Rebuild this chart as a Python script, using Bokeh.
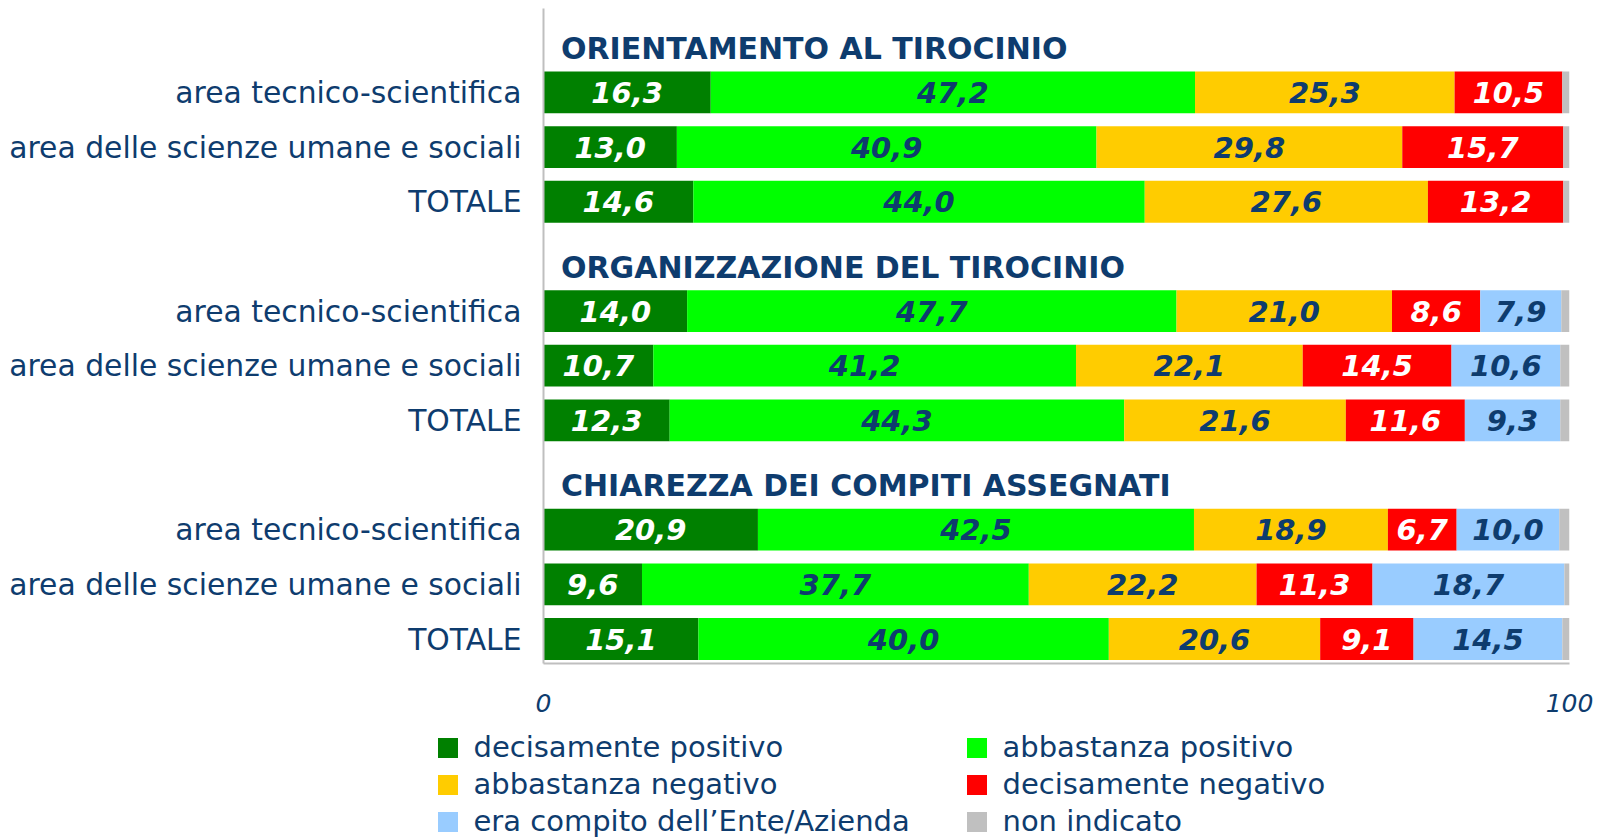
from bokeh.plotting import figure
from bokeh.models import Range1d, FixedTicker, ColumnDataSource, Legend, LegendItem
from bokeh.embed import file_html
from bokeh.resources import INLINE
from bokeh.core.properties import value

# ---------------- data ----------------
sections = ["ORIENTAMENTO AL TIROCINIO", "ORGANIZZAZIONE DEL TIROCINIO",
            "CHIAREZZA DEI COMPITI ASSEGNATI"]
rows = ["area tecnico-scientifica", "area delle scienze umane e sociali", "TOTALE"]
categories = ["decisamente positivo", "abbastanza positivo", "abbastanza negativo",
              "decisamente negativo", "era compito dell\u2019Ente/Azienda", "non indicato"]

decisamente_positivo = [16.3, 13.0, 14.6, 14.0, 10.7, 12.3, 20.9, 9.6, 15.1]
abbastanza_positivo = [47.2, 40.9, 44.0, 47.7, 41.2, 44.3, 42.5, 37.7, 40.0]
abbastanza_negativo = [25.3, 29.8, 27.6, 21.0, 22.1, 21.6, 18.9, 22.2, 20.6]
decisamente_negativo = [10.5, 15.7, 13.2, 8.6, 14.5, 11.6, 6.7, 11.3, 9.1]
era_compito = [0.0, 0.0, 0.0, 7.9, 10.6, 9.3, 10.0, 18.7, 14.5]
non_indicato = [0.7, 0.6, 0.6, 0.8, 0.9, 0.9, 1.0, 0.5, 0.7]

x_ticks = [0, 100]

# ---------------- style ----------------
series = [decisamente_positivo, abbastanza_positivo, abbastanza_negativo,
          decisamente_negativo, era_compito, non_indicato]
colors = ["#008000", "#00FF00", "#FFCC00", "#FF0000", "#99CCFF", "#C0C0C0"]
NAVY = "#0E3C6E"
label_colors = ["white", NAVY, NAVY, "white", NAVY, None]
FONT = value("DejaVu Sans")
AXIS_GREY = "#BFBFBF"

# slot layout: section s -> title slot 4*s, rows 4*s+1 .. 4*s+3
row_pos = []
row_names = []
for s in range(len(sections)):
    for r, name in enumerate(rows):
        row_pos.append(4 * s + 1 + r)
        row_names.append(name)
title_pos = [4 * s + 0.2 for s in range(len(sections))]

p = figure(width=1604, height=725,
           x_range=Range1d(0, 100), y_range=Range1d(11.448, -0.535),
           output_backend="svg", toolbar_location=None,
           min_border_left=543, min_border_right=35,
           min_border_top=8, min_border_bottom=62)
p.outline_line_color = None
p.xgrid.visible = False
p.ygrid.visible = False

cum = [0.0] * len(row_pos)
for k, vals in enumerate(series):
    left = cum[:]
    right = [a + b for a, b in zip(cum, vals)]
    cum = right
    src = ColumnDataSource(dict(y=row_pos, left=left, right=right))
    p.hbar(y="y", left="left", right="right", height=0.765, source=src,
           fill_color=colors[k], line_color=None)
    if label_colors[k] is not None:
        lx, ly, lt = [], [], []
        for i, v in enumerate(vals):
            if v > 0:
                lx.append((left[i] + right[i]) / 2)
                ly.append(row_pos[i])
                lt.append(f"{v:.1f}".replace(".", ","))
        p.text(x=lx, y=ly, text=lt, text_align="center", text_baseline="middle",
               text_font=FONT, text_font_style="bold italic", text_font_size="29px",
               text_color=label_colors[k])

# section titles
p.text(x=[1.7] * len(sections), y=title_pos, text=sections,
       text_align="left", text_baseline="alphabetic",
       text_font=FONT, text_font_style="bold", text_font_size="30px",
       text_color=NAVY)

# y axis (row labels)
ya = p.yaxis[0]
ya.ticker = FixedTicker(ticks=row_pos)
ya.major_label_overrides = {pos: name for pos, name in zip(row_pos, row_names)}
ya.major_label_text_font = "DejaVu Sans"
ya.major_label_text_font_size = "29.8px"
ya.major_label_text_color = NAVY
ya.major_label_standoff = 22
ya.major_tick_out = 0
ya.major_tick_in = 0
ya.minor_tick_out = 0
ya.minor_tick_in = 0
ya.axis_line_color = AXIS_GREY
ya.axis_line_width = 2

xa = p.xaxis[0]
xa.ticker = FixedTicker(ticks=x_ticks)
xa.major_label_text_font = "DejaVu Sans"
xa.major_label_text_font_style = "italic"
xa.major_label_text_font_size = "25px"
xa.major_label_text_color = NAVY
xa.major_label_standoff = 30
xa.major_tick_out = 0
xa.major_tick_in = 0
xa.minor_tick_out = 0
xa.minor_tick_in = 0
xa.axis_line_color = AXIS_GREY
xa.axis_line_width = 2

# ---------------- legend strip (separate root below the chart) ----------------
lg = figure(width=1604, height=113, x_range=Range1d(0, 1), y_range=Range1d(0, 1),
            output_backend="svg", toolbar_location=None, min_border=0,
            x_axis_location=None, y_axis_location=None)
lg.outline_line_color = None
lg.grid.visible = False
# swatch renderers lie outside the visible range; only their legend glyphs show
swatches = [lg.hbar(y=[-10], left=[0], right=[1], height=1, fill_color=c, line_color=None)
            for c in colors]


def make_legend(idx, loc):
    leg = Legend(items=[LegendItem(label=categories[i], renderers=[swatches[i]]) for i in idx],
                 location=loc, orientation="vertical",
                 glyph_width=25, glyph_height=25, label_standoff=14, spacing=3,
                 padding=0, margin=0, border_line_color=None, background_fill_alpha=0,
                 label_text_font="DejaVu Sans", label_text_font_size="29px",
                 label_text_color=NAVY, label_height=25)
    lg.add_layout(leg, "center")


make_legend([0, 2, 4], (434.5, 0))
make_legend([1, 3, 5], (963.5, 0))

open("out.html", "w").write(file_html([p, lg], INLINE))
